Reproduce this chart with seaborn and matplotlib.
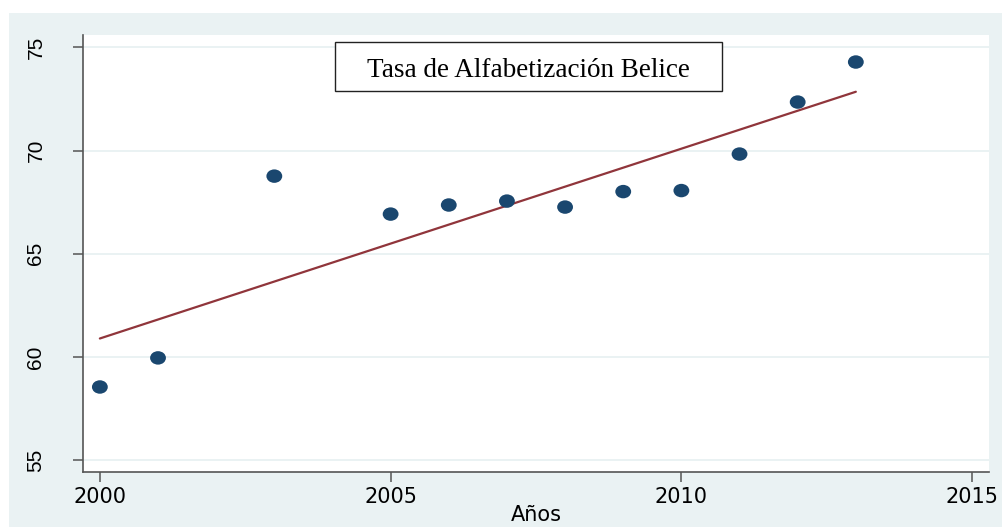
import numpy as np
import pandas as pd
import matplotlib
matplotlib.use("Agg")
import matplotlib.pyplot as plt
import matplotlib.path as mpath
import matplotlib.transforms as mtrans
from matplotlib.patches import Rectangle
import seaborn as sns

# Data
years = [2000, 2001, 2003, 2005, 2006, 2007, 2008, 2009, 2010, 2011, 2012, 2013]
literacy = [58.54, 59.95, 68.76, 66.92, 67.36, 67.55, 67.26, 68.01, 68.06, 69.83, 72.35, 74.29]
x_ticks = [2000, 2005, 2010, 2015]
y_ticks = [55, 60, 65, 70, 75]
title_text = "Tasa de Alfabetización Belice"
x_label = "Años"

df = pd.DataFrame({"Años": years, "Tasa": literacy})

sns.set_style("white")
plt.rcParams['font.family'] = ['Liberation Sans', 'DejaVu Sans']
plt.rcParams['text.color'] = 'black'
plt.rcParams['axes.labelcolor'] = 'black'
plt.rcParams['xtick.color'] = 'black'
plt.rcParams['ytick.color'] = 'black'

BG = "#EAF2F3"
NAVY = "#1A476F"
MAROON = "#90353B"
AXC = "#555555"

fig = plt.figure(figsize=(10.03, 5.27), dpi=100, facecolor="white")
fig.patches.append(Rectangle((9 / 1003, 0), 1 - 9 / 1003, 1 - 13 / 527,
                             transform=fig.transFigure, facecolor=BG,
                             edgecolor="none", zorder=-10))

ax = fig.add_axes([83 / 1003, 1 - 472 / 527, (989 - 83) / 1003, (472 - 35) / 527])
ax.set_facecolor("white")

# elliptical marker like Stata output
ell = mpath.Path.unit_circle().transformed(mtrans.Affine2D().scale(1.0, 0.85))

sns.regplot(data=df, x="Años", y="Tasa", ax=ax, ci=None, marker=ell,
            scatter_kws=dict(s=130, color=NAVY, edgecolors="none", alpha=1, zorder=3),
            line_kws=dict(color=MAROON, lw=1.6, zorder=2))

ax.set_xlim(1999.71, 2015.29)
ax.set_ylim(54.42, 75.6)
ax.set_xticks(x_ticks)
ax.set_yticks(y_ticks)
ax.yaxis.grid(True, color=BG, lw=1.4, zorder=0)
ax.xaxis.grid(False)
ax.set_axisbelow(True)

for s in ["top", "right"]:
    ax.spines[s].set_visible(False)
for s in ["left", "bottom"]:
    ax.spines[s].set_color(AXC)
    ax.spines[s].set_linewidth(1.2)

ax.tick_params(axis="x", which="major", direction="out", length=7, width=1.1,
               color=AXC, labelcolor="black", pad=4, bottom=True)
ax.tick_params(axis="y", which="major", direction="out", length=7, width=1.1,
               color=AXC, labelcolor="black", labelsize=15, pad=20, left=True)
for lab in ax.get_xticklabels():
    lab.set_fontfamily(["DejaVu Sans"])
    lab.set_fontsize(15)
for lab in ax.get_yticklabels():
    lab.set_rotation(90)
    lab.set_va("center")

ax.set_xlabel(x_label, fontsize=15, color="black", family=["DejaVu Sans"])
ax.xaxis.set_label_coords(0.5, -0.076)
ax.set_ylabel("")

# title box
fig.patches.append(Rectangle((335 / 1003, 1 - 90.7 / 527), 386.7 / 1003, 49 / 527,
                             transform=fig.transFigure, facecolor="white",
                             edgecolor="#222222", lw=1.0, zorder=5))
fig.text(528 / 1003, 1 - 76.7 / 527, title_text, ha="center", va="baseline",
         fontsize=19.5, color="black", family=["Liberation Serif", "DejaVu Serif"], zorder=6)

fig.savefig("out.png", dpi=100, facecolor="white")
